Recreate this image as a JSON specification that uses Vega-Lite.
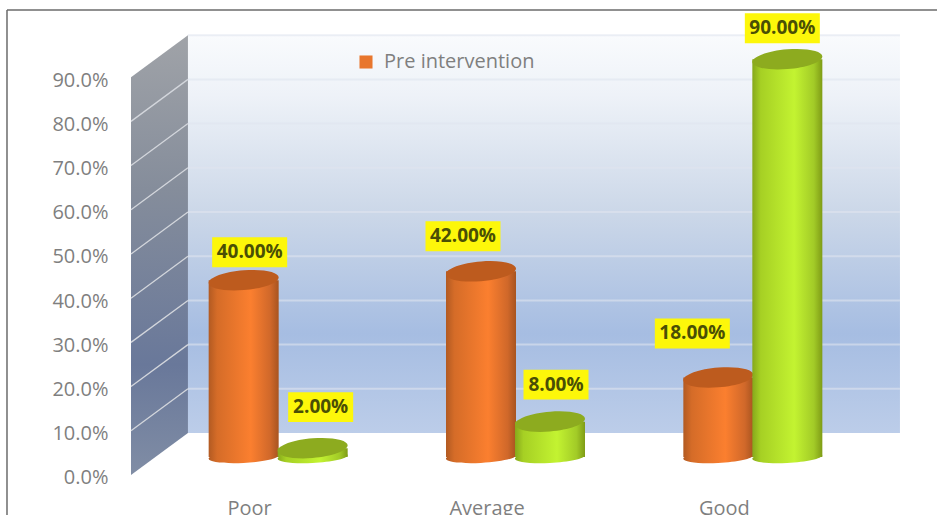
{
  "$schema": "https://vega.github.io/schema/vega-lite/v6.json",
  "width": 930,
  "height": 505,
  "padding": {"left": 7, "top": 10, "right": 0, "bottom": 0},
  "autosize": {"type": "none"},
  "background": "white",
  "config": {"view": {"stroke": null}, "font": "Open Sans"},
  "datasets": {
    "results": [
      {"category": "Poor", "series": "Pre intervention", "value": 0.40},
      {"category": "Average", "series": "Pre intervention", "value": 0.42},
      {"category": "Good", "series": "Pre intervention", "value": 0.18},
      {"category": "Poor", "series": "Post intervention", "value": 0.02},
      {"category": "Average", "series": "Post intervention", "value": 0.08},
      {"category": "Good", "series": "Post intervention", "value": 0.90}
    ],
    "frame": [
      {"x0": -0.5225, "x1": 3.396, "y0": 1.052, "y1": 1.052},
      {"x0": -0.5225, "x1": -0.5225, "y0": -0.0905, "y1": 1.052}
    ],
    "backWall": [{"x0": 0.24, "x1": 3.24, "y0": 0.095, "y1": 0.995}],
    "backGrid": [
      {"x0": 0.24, "x1": 3.24, "level": 0.195},
      {"x0": 0.24, "x1": 3.24, "level": 0.295},
      {"x0": 0.24, "x1": 3.24, "level": 0.395},
      {"x0": 0.24, "x1": 3.24, "level": 0.495},
      {"x0": 0.24, "x1": 3.24, "level": 0.595},
      {"x0": 0.24, "x1": 3.24, "level": 0.695},
      {"x0": 0.24, "x1": 3.24, "level": 0.795},
      {"x0": 0.24, "x1": 3.24, "level": 0.895},
      {"x0": 0.24, "x1": 3.24, "level": 0.995}
    ],
    "sideWall": [
      {"x": 0, "y0": 0, "y1": 0.9},
      {"x": 0.24, "y0": 0.095, "y1": 0.995}
    ],
    "sideGrid": [
      {"x0": 0, "x1": 0.24, "y0": 0.1, "y1": 0.195},
      {"x0": 0, "x1": 0.24, "y0": 0.2, "y1": 0.295},
      {"x0": 0, "x1": 0.24, "y0": 0.3, "y1": 0.395},
      {"x0": 0, "x1": 0.24, "y0": 0.4, "y1": 0.495},
      {"x0": 0, "x1": 0.24, "y0": 0.5, "y1": 0.595},
      {"x0": 0, "x1": 0.24, "y0": 0.6, "y1": 0.695},
      {"x0": 0, "x1": 0.24, "y0": 0.7, "y1": 0.795},
      {"x0": 0, "x1": 0.24, "y0": 0.8, "y1": 0.895}
    ]
  },
  "resolve": {"scale": {"x": "independent"}, "axis": {"x": "independent"}},
  "encoding": {
    "y": {
      "type": "quantitative",
      "stack": null,
      "scale": {"domain": [-0.0905, 1.052], "nice": false, "zero": false},
      "axis": {"title": null, "format": ".1%", "values": [0, 0.1, 0.2, 0.3, 0.4, 0.5, 0.6, 0.7, 0.8, 0.9], "grid": false, "domain": false, "ticks": false, "offset": -101, "labelPadding": 0, "labelOffset": 3, "labelFont": "Open Sans", "labelFontSize": 20, "labelColor": "#7f7f7f"}
    }
  },
  "layer": [
    {
      "encoding": {
        "x": {"type": "quantitative", "axis": null, "scale": {"domain": [0, 3], "range": [124, 836]}}
      },
      "layer": [
        {
          "data": {"name": "backWall"},
          "mark": {"type": "rect", "color": {"gradient": "linear", "x1": 0, "y1": 0, "x2": 0, "y2": 1, "stops": [
            {"offset": 0, "color": "#f9fbfd"},
            {"offset": 0.15, "color": "#eef2f8"},
            {"offset": 0.45, "color": "#cbd7e8"},
            {"offset": 0.75, "color": "#a6bde2"},
            {"offset": 1, "color": "#bccde9"}
          ]}},
          "encoding": {
            "x": {"field": "x0"},
            "x2": {"field": "x1"},
            "y": {"field": "y0"},
            "y2": {"field": "y1"}
          }
        },
        {
          "data": {"name": "backGrid"},
          "mark": {"type": "rule", "color": "#dfe5ef", "opacity": 0.6, "strokeWidth": 2},
          "encoding": {
            "x": {"field": "x0"},
            "x2": {"field": "x1"},
            "y": {"field": "level"}
          }
        },
        {
          "data": {"name": "sideWall"},
          "mark": {"type": "area", "color": {"gradient": "linear", "x1": 0, "y1": 0, "x2": 0, "y2": 1, "stops": [
            {"offset": 0, "color": "#a0a3a8"},
            {"offset": 0.35, "color": "#858d9b"},
            {"offset": 0.75, "color": "#69789a"},
            {"offset": 1, "color": "#808da5"}
          ]}},
          "encoding": {
            "x": {"field": "x"},
            "y": {"field": "y0"},
            "y2": {"field": "y1"}
          }
        },
        {
          "data": {"name": "sideGrid"},
          "mark": {"type": "rule", "color": "#d3d6dc", "strokeWidth": 1.3},
          "encoding": {
            "x": {"field": "x0"},
            "x2": {"field": "x1"},
            "y": {"field": "y0"},
            "y2": {"field": "y1"}
          }
        },
        {
          "data": {"name": "frame"},
          "mark": {"type": "rule", "color": "#6b6b6b", "strokeWidth": 1.5},
          "encoding": {
            "x": {"field": "x0"},
            "x2": {"field": "x1"},
            "y": {"field": "y0"},
            "y2": {"field": "y1"}
          }
        }
      ]
    },
    {
      "data": {"name": "results"},
      "encoding": {
        "x": {
          "field": "category",
          "type": "nominal",
          "sort": ["Poor", "Average", "Good"],
          "scale": {"range": [124, 836], "paddingInner": 0, "paddingOuter": 0},
          "axis": {"title": null, "labelAngle": 0, "domain": false, "ticks": false, "offset": -17, "labelPadding": 0, "labelFont": "Open Sans", "labelFontSize": 20, "labelColor": "#7f7f7f"}
        },
        "y": {"field": "value"}
      },
      "layer": [
        {
          "transform": [{"filter": "datum.series === 'Pre intervention'"}],
          "mark": {"type": "point", "shape": "square", "filled": true, "size": 60, "opacity": 1, "xOffset": -6, "yOffset": -18},
          "encoding": {
            "y": {"datum": 0},
            "color": {
              "field": "series",
              "type": "nominal",
              "scale": {"domain": ["Pre intervention"], "range": ["#e8762d"]},
              "legend": {"title": null, "orient": "none", "legendX": 349, "legendY": 42, "symbolType": "square", "symbolSize": 170, "labelFont": "Open Sans", "labelFontSize": 20, "labelColor": "#7f7f7f", "labelOffset": 8}
            }
          }
        },
        {
          "transform": [{"filter": "datum.series === 'Pre intervention'"}],
          "layer": [
            {
              "mark": {"type": "point", "filled": true, "opacity": 1, "size": 4900, "xOffset": -6, "yOffset": -18, "shape": "M-1,0.05A1,0.17,-3,1,1,1,-0.05A1,0.17,-3,1,1,-1,0.05Z",
                "fill": {"gradient": "linear", "x1": 0, "y1": 0, "x2": 1, "y2": 0, "stops": [
                  {"offset": 0, "color": "#b25a22"}, {"offset": 0.12, "color": "#d56c28"}, {"offset": 0.6, "color": "#fb7f2f"}, {"offset": 0.88, "color": "#d0682a"}, {"offset": 1, "color": "#a85420"}
                ]}},
              "encoding": {"y": {"datum": 0}}
            },
            {
              "mark": {"type": "bar", "width": 70, "xOffset": -6, "yOffset": -18, "y2Offset": -18,
                "fill": {"gradient": "linear", "x1": 0, "y1": 0, "x2": 1, "y2": 0, "stops": [
                  {"offset": 0, "color": "#b25a22"}, {"offset": 0.12, "color": "#d56c28"}, {"offset": 0.6, "color": "#fb7f2f"}, {"offset": 0.88, "color": "#d0682a"}, {"offset": 1, "color": "#a85420"}
                ]}},
              "encoding": {"y2": {"datum": 0}}
            },
            {
              "mark": {"type": "point", "filled": true, "opacity": 1, "size": 4900, "xOffset": -6, "yOffset": -18, "fill": "#bd5b1e", "shape": "M-1,0.08A1,0.28,-5,1,1,1,-0.08A1,0.28,-5,1,1,-1,0.08Z"}
            }
          ]
        },
        {
          "transform": [{"filter": "datum.series === 'Post intervention'"}],
          "layer": [
            {
              "mark": {"type": "point", "filled": true, "opacity": 1, "size": 4900, "xOffset": 63, "yOffset": -18, "shape": "M-1,0.05A1,0.17,-3,1,1,1,-0.05A1,0.17,-3,1,1,-1,0.05Z",
                "fill": {"gradient": "linear", "x1": 0, "y1": 0, "x2": 1, "y2": 0, "stops": [
                  {"offset": 0, "color": "#86a81c"}, {"offset": 0.12, "color": "#a6d024"}, {"offset": 0.6, "color": "#c3f331"}, {"offset": 0.88, "color": "#a2cb27"}, {"offset": 1, "color": "#7f9c16"}
                ]}},
              "encoding": {"y": {"datum": 0}}
            },
            {
              "mark": {"type": "bar", "width": 70, "xOffset": 63, "yOffset": -18, "y2Offset": -18,
                "fill": {"gradient": "linear", "x1": 0, "y1": 0, "x2": 1, "y2": 0, "stops": [
                  {"offset": 0, "color": "#86a81c"}, {"offset": 0.12, "color": "#a6d024"}, {"offset": 0.6, "color": "#c3f331"}, {"offset": 0.88, "color": "#a2cb27"}, {"offset": 1, "color": "#7f9c16"}
                ]}},
              "encoding": {"y2": {"datum": 0}}
            },
            {
              "mark": {"type": "point", "filled": true, "opacity": 1, "size": 4900, "xOffset": 63, "yOffset": -18, "fill": "#8dab1f", "shape": "M-1,0.08A1,0.28,-5,1,1,1,-0.08A1,0.28,-5,1,1,-1,0.08Z"}
            }
          ]
        },
        {
          "transform": [{"filter": "datum.series === 'Pre intervention' && datum.category === 'Poor'"}],
          "layer": [
            {"mark": {"type": "point", "filled": true, "opacity": 1, "fill": "#fdf70a", "size": 5625, "xOffset": 0, "yOffset": -46, "shape": "M-1,-0.4H1V0.4H-1Z"}},
            {"mark": {"type": "text", "fontWeight": "bold", "fontSize": 19, "font": "Open Sans", "color": "#4a4f05", "xOffset": 0, "yOffset": -46}, "encoding": {"text": {"field": "value", "type": "quantitative", "format": ".2%"}}}
          ]
        },
        {
          "transform": [{"filter": "datum.series === 'Pre intervention' && datum.category === 'Average'"}],
          "layer": [
            {"mark": {"type": "point", "filled": true, "opacity": 1, "fill": "#fdf70a", "size": 5625, "xOffset": -24, "yOffset": -53, "shape": "M-1,-0.4H1V0.4H-1Z"}},
            {"mark": {"type": "text", "fontWeight": "bold", "fontSize": 19, "font": "Open Sans", "color": "#4a4f05", "xOffset": -24, "yOffset": -53}, "encoding": {"text": {"field": "value", "type": "quantitative", "format": ".2%"}}}
          ]
        },
        {
          "transform": [{"filter": "datum.series === 'Pre intervention' && datum.category === 'Good'"}],
          "layer": [
            {"mark": {"type": "point", "filled": true, "opacity": 1, "fill": "#fdf70a", "size": 5625, "xOffset": -32, "yOffset": -62, "shape": "M-1,-0.4H1V0.4H-1Z"}},
            {"mark": {"type": "text", "fontWeight": "bold", "fontSize": 19, "font": "Open Sans", "color": "#4a4f05", "xOffset": -32, "yOffset": -62}, "encoding": {"text": {"field": "value", "type": "quantitative", "format": ".2%"}}}
          ]
        },
        {
          "transform": [{"filter": "datum.series === 'Post intervention' && datum.category === 'Poor'"}],
          "layer": [
            {"mark": {"type": "point", "filled": true, "opacity": 1, "fill": "#fdf70a", "size": 4225, "xOffset": 71, "yOffset": -59, "shape": "M-1,-0.46H1V0.46H-1Z"}},
            {"mark": {"type": "text", "fontWeight": "bold", "fontSize": 19, "font": "Open Sans", "color": "#4a4f05", "xOffset": 71, "yOffset": -59}, "encoding": {"text": {"field": "value", "type": "quantitative", "format": ".2%"}}}
          ]
        },
        {
          "transform": [{"filter": "datum.series === 'Post intervention' && datum.category === 'Average'"}],
          "layer": [
            {"mark": {"type": "point", "filled": true, "opacity": 1, "fill": "#fdf70a", "size": 4225, "xOffset": 69, "yOffset": -55, "shape": "M-1,-0.46H1V0.46H-1Z"}},
            {"mark": {"type": "text", "fontWeight": "bold", "fontSize": 19, "font": "Open Sans", "color": "#4a4f05", "xOffset": 69, "yOffset": -55}, "encoding": {"text": {"field": "value", "type": "quantitative", "format": ".2%"}}}
          ]
        },
        {
          "transform": [{"filter": "datum.series === 'Post intervention' && datum.category === 'Good'"}],
          "layer": [
            {"mark": {"type": "point", "filled": true, "opacity": 1, "fill": "#fdf70a", "size": 5625, "xOffset": 58, "yOffset": -49, "shape": "M-1,-0.4H1V0.4H-1Z"}},
            {"mark": {"type": "text", "fontWeight": "bold", "fontSize": 19, "font": "Open Sans", "color": "#4a4f05", "xOffset": 58, "yOffset": -49}, "encoding": {"text": {"field": "value", "type": "quantitative", "format": ".2%"}}}
          ]
        }
      ]
    }
  ]
}
